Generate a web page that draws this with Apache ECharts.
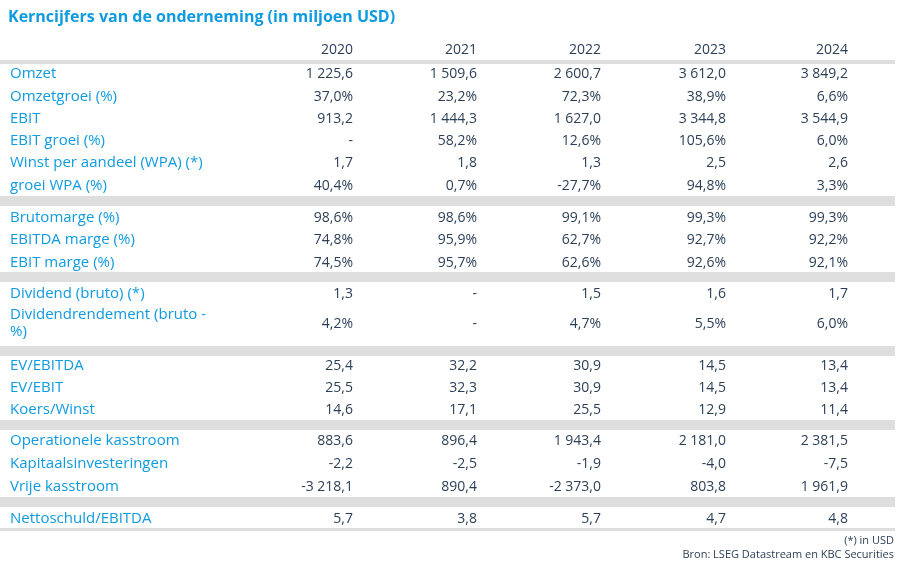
<!DOCTYPE html>
<html>
<head>
<meta charset="utf-8">
<title>Kerncijfers</title>
<script src="https://cdn.jsdelivr.net/npm/echarts@6/dist/echarts.min.js"></script>
<style>
  html,body{margin:0;padding:0;background:#fff;}
  #main{width:912px;height:568px;}
</style>
</head>
<body>
<div id="main"></div>
<script type="text/javascript">
var years = ['2020', '2021', '2022', '2023', '2024'];
var labels = ['Omzet', 'Omzetgroei (%)', 'EBIT', 'EBIT groei (%)', 'Winst per aandeel (WPA) (*)', 'groei WPA (%)',
  'Brutomarge (%)', 'EBITDA marge (%)', 'EBIT marge (%)',
  'Dividend (bruto) (*)', 'Dividendrendement (bruto -\n%)',
  'EV/EBITDA', 'EV/EBIT', 'Koers/Winst',
  'Operationele kasstroom', 'Kapitaalsinvesteringen', 'Vrije kasstroom',
  'Nettoschuld/EBITDA'];
var v2020 = ['1 225,6', '37,0%', '913,2', '-', '1,7', '40,4%', '98,6%', '74,8%', '74,5%', '1,3', '4,2%', '25,4', '25,5', '14,6', '883,6', '-2,2', '-3 218,1', '5,7'];
var v2021 = ['1 509,6', '23,2%', '1 444,3', '58,2%', '1,8', '0,7%', '98,6%', '95,9%', '95,7%', '-', '-', '32,2', '32,3', '17,1', '896,4', '-2,5', '890,4', '3,8'];
var v2022 = ['2 600,7', '72,3%', '1 627,0', '12,6%', '1,3', '-27,7%', '99,1%', '62,7%', '62,6%', '1,5', '4,7%', '30,9', '30,9', '25,5', '1 943,4', '-1,9', '-2 373,0', '5,7'];
var v2023 = ['3 612,0', '38,9%', '3 344,8', '105,6%', '2,5', '94,8%', '99,3%', '92,7%', '92,6%', '1,6', '5,5%', '14,5', '14,5', '12,9', '2 181,0', '-4,0', '803,8', '4,7'];
var v2024 = ['3 849,2', '6,6%', '3 544,9', '6,0%', '2,6', '3,3%', '99,3%', '92,2%', '92,1%', '1,7', '6,0%', '13,4', '13,4', '11,4', '2 381,5', '-7,5', '1 961,9', '4,8'];
var cols = [v2020, v2021, v2022, v2023, v2024];
// row centres and group separators
var rowY = [74, 97, 119, 141, 163, 186, 218, 240, 263, 294, 324, 366, 388, 410, 441, 464, 487, 519];
var bands = [196, 272, 346, 420, 497];
var colX = [353, 477, 601, 726, 848];

var blue = '#0f9be0', dark = '#2b3f58';
var font = '"Open Sans", "Noto Sans", sans-serif';
var els = [];
els.push({type: 'text', left: 8, top: 9, style: {text: 'Kerncijfers van de onderneming (in miljoen USD)', fill: blue, font: 'bold 16px ' + font}});
els.push({type: 'rect', shape: {x: 0, y: 60, width: 895, height: 4}, style: {fill: '#dedede'}});
els.push({type: 'rect', shape: {x: 0, y: 528, width: 895, height: 3}, style: {fill: '#dedede'}});
bands.forEach(function (y) {
  els.push({type: 'rect', shape: {x: 0, y: y, width: 895, height: 10}, style: {fill: '#dedede'}});
});
years.forEach(function (yr, j) {
  els.push({type: 'text', x: colX[j], y: 50, style: {text: yr, fill: dark, font: '14px ' + font, textAlign: 'right', textVerticalAlign: 'middle'}});
});
labels.forEach(function (lb, i) {
  var multi = lb.indexOf('\n') >= 0;
  els.push({type: 'text', x: 10, y: multi ? rowY[i] - 1 : rowY[i], style: {text: lb, fill: blue, font: '15px ' + font, textVerticalAlign: 'middle', lineHeight: 17}});
  cols.forEach(function (c, j) {
    els.push({type: 'text', x: colX[j], y: rowY[i], style: {text: c[i], fill: dark, font: '14px ' + font, textAlign: 'right', textVerticalAlign: 'middle'}});
  });
});
els.push({type: 'text', x: 894, y: 541, style: {text: '(*) in USD', fill: dark, font: '11px ' + font, textAlign: 'right', textVerticalAlign: 'middle'}});
els.push({type: 'text', x: 894, y: 555, style: {text: 'Bron: LSEG Datastream en KBC Securities', fill: dark, font: '11px ' + font, textAlign: 'right', textVerticalAlign: 'middle'}});

var chart = echarts.init(document.getElementById('main'));
chart.setOption({animation: false, graphic: {elements: els}});
</script>
</body>
</html>
